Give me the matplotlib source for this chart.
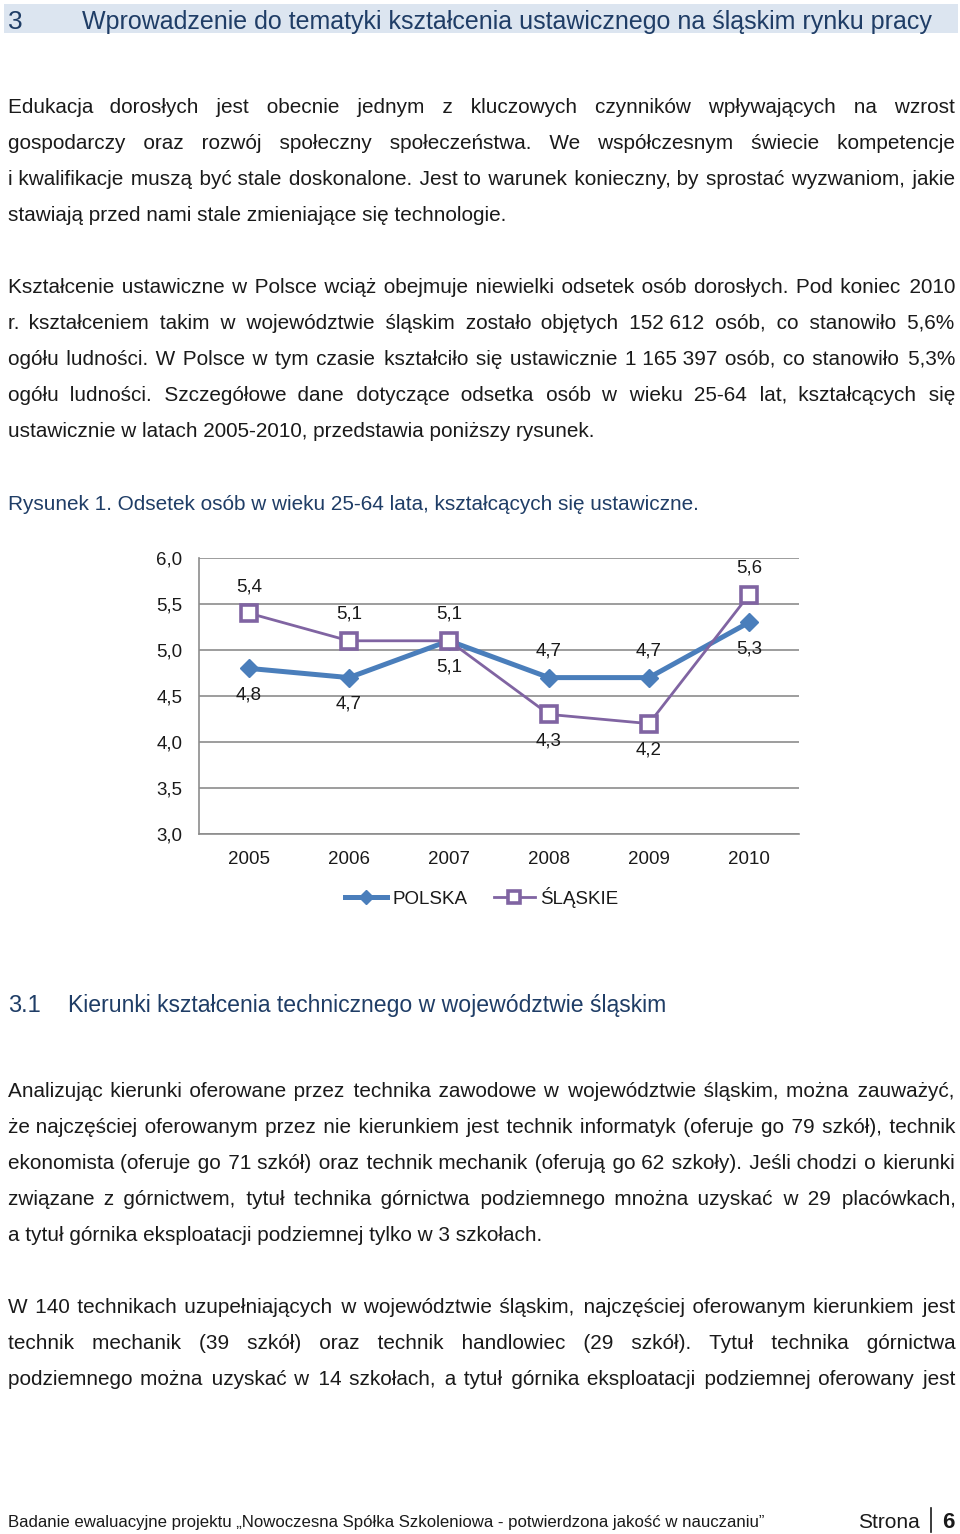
import matplotlib
matplotlib.use("Agg")
import matplotlib.pyplot as plt
from matplotlib.patches import Rectangle
from matplotlib.lines import Line2D

# chart data
years = ["2005", "2006", "2007", "2008", "2009", "2010"]
polska = [4.8, 4.7, 5.1, 4.7, 4.7, 5.3]
slaskie = [5.4, 5.1, 5.1, 4.3, 4.2, 5.6]
# label side: +1 above the point, -1 below
polska_side = [-1, -1, -1, 1, 1, -1]
slaskie_side = [1, 1, 1, -1, -1, 1]
yticks = [3.0, 3.5, 4.0, 4.5, 5.0, 5.5, 6.0]

# page text (one entry per printed line)
para1 = [
    "Edukacja dorosłych jest obecnie jednym z kluczowych czynników wpływających na wzrost",
    "gospodarczy oraz rozwój społeczny społeczeństwa. We współczesnym świecie kompetencje",
    "i kwalifikacje muszą być stale doskonalone. Jest to warunek konieczny, by sprostać wyzwaniom, jakie",
    "stawiają przed nami stale zmieniające się technologie.",
]
para2 = [
    "Kształcenie ustawiczne w Polsce wciąż obejmuje niewielki odsetek osób dorosłych. Pod koniec 2010",
    "r. kształceniem takim w województwie śląskim zostało objętych 152\u00a0612 osób, co stanowiło 5,6%",
    "ogółu ludności. W Polsce w tym czasie kształciło się ustawicznie 1\u00a0165\u00a0397 osób, co stanowiło 5,3%",
    "ogółu ludności. Szczegółowe dane dotyczące odsetka osób w wieku 25-64 lat, kształcących się",
    "ustawicznie w latach 2005-2010, przedstawia poniższy rysunek.",
]
para3 = [
    "Analizując kierunki oferowane przez technika zawodowe w województwie śląskim, można zauważyć,",
    "że najczęściej oferowanym przez nie kierunkiem jest technik informatyk (oferuje go 79 szkół), technik",
    "ekonomista (oferuje go 71 szkół) oraz technik mechanik (oferują go 62 szkoły). Jeśli chodzi o kierunki",
    "związane z górnictwem, tytuł technika górnictwa podziemnego mnożna uzyskać w 29 placówkach,",
    "a tytuł górnika eksploatacji podziemnej tylko w 3 szkołach.",
]
para4 = [
    "W 140 technikach uzupełniających w województwie śląskim, najczęściej oferowanym kierunkiem jest",
    "technik mechanik (39 szkół) oraz technik handlowiec (29 szkół). Tytuł technika górnictwa",
    "podziemnego można uzyskać w 14 szkołach, a tytuł górnika eksploatacji podziemnej oferowany jest",
]

W, H = 960, 1534
plt.rcParams["font.family"] = ["Liberation Sans", "DejaVu Sans"]
fig = plt.figure(figsize=(W / 100, H / 100), dpi=100)
fig.patch.set_facecolor("white")
renderer = fig.canvas.get_renderer()

TXT = "#1a1a1a"
HEAD = "#1f3d66"
BODY_SIZE = 14.95
HS = "\u200a"  # hair space, used to stretch word gaps


def fx(x):
    return x / W


def fy(y):
    return 1 - y / H


def width_of(s, size):
    t = fig.text(0, 0, s, fontsize=size)
    w = t.get_window_extent(renderer).width
    t.remove()
    return w


def fit_text(x, y, s, target_w, size, **kw):
    t = fig.text(fx(x), fy(y), s, fontsize=size, va="baseline", **kw)
    w = t.get_window_extent(renderer).width
    t.set_fontsize(size * target_w / w)
    return t


hs_w = (width_of("x" + HS * 40 + "x", BODY_SIZE) - width_of("xx", BODY_SIZE)) / 40
X0, X1 = 8, 955


def paragraph(lines, y0, step=36, justify_last=False):
    for i, line in enumerate(lines):
        yb = y0 + i * step + 7
        words = line.split(" ")
        if i < len(lines) - 1 or justify_last:
            extra = (X1 - X0) - width_of(line, BODY_SIZE)
            n = max(0, round(extra / hs_w))
            gaps = len(words) - 1
            out = words[0]
            for k, w in enumerate(words[1:]):
                cnt = n * (k + 1) // gaps - n * k // gaps
                out += " " + HS * cnt + w
            line = out
        fig.text(fx(X0), fy(yb), line, fontsize=BODY_SIZE, color=TXT, va="baseline")


# header band
fig.patches.append(Rectangle((fx(4), fy(33)), fx(954), 29 / H, transform=fig.transFigure,
                             facecolor="#dce5f0", edgecolor="none", zorder=0))
fig.text(fx(8), fy(29), "3", fontsize=19, color=HEAD, va="baseline")
fit_text(82, 29, "Wprowadzenie do tematyki kształcenia ustawicznego na śląskim rynku pracy",
         853, 17, color=HEAD)

paragraph(para1, 106)
paragraph(para2, 286)

fit_text(8, 510, "Rysunek 1. Odsetek osób w wieku 25-64 lata, kształcących się ustawiczne.",
         694, 14, color=HEAD)

# chart
ax = fig.add_axes([fx(199), fy(834), 600 / W, 276 / H])
x = list(range(len(years)))
ax.plot(x, polska, color="#4a7ebb", lw=3.6, marker="D", markersize=9,
        label="POLSKA", zorder=3)
ax.plot(x, slaskie, color="#8064a2", lw=2, marker="s", markersize=12,
        markerfacecolor="white", markeredgewidth=2.6, label="ŚLĄSKIE", zorder=4)
lab = dict(ha="center", va="center", fontsize=13.5, color=TXT, textcoords="offset points")
for i in x:
    ax.annotate(f"{polska[i]:.1f}".replace(".", ","), (i, polska[i]),
                xytext=(0, 19 * polska_side[i]), **lab)
    ax.annotate(f"{slaskie[i]:.1f}".replace(".", ","), (i, slaskie[i]),
                xytext=(0, 19 * slaskie_side[i]), **lab)

ax.set_xlim(-0.5, 5.5)
ax.set_ylim(3.0, 6.0)
ax.set_yticks(yticks)
ax.set_yticklabels([f"{v:.1f}".replace(".", ",") for v in yticks])
ax.set_xticks(x)
ax.set_xticklabels(years)
ax.tick_params(length=0, labelsize=13.5, labelcolor=TXT)
ax.tick_params(axis="y", pad=12)
ax.tick_params(axis="x", pad=12)
ax.grid(axis="y", color="#8c8c8c", lw=1.2)
ax.set_axisbelow(True)
for s in ["top", "right"]:
    ax.spines[s].set_visible(False)
for s in ["left", "bottom"]:
    ax.spines[s].set_color("#8c8c8c")
    ax.spines[s].set_linewidth(1.2)

fig.legend(handles=ax.get_lines(), loc="center", bbox_to_anchor=(fx(482), fy(897)),
           ncol=2, frameon=False, fontsize=13.5, handlelength=2.2, handletextpad=0.3,
           columnspacing=1.4, labelcolor=TXT, markerscale=0.75)

# section 3.1
fig.text(fx(8), fy(1012), "3.1", fontsize=17, color=HEAD, va="baseline")
fit_text(68, 1012, "Kierunki kształcenia technicznego w województwie śląskim",
         600, 17, color=HEAD)

paragraph(para3, 1090)
paragraph(para4, 1306, justify_last=True)

# footer
fit_text(8, 1527, "Badanie ewaluacyjne projektu „Nowoczesna Spółka Szkoleniowa - potwierdzona jakość w nauczaniu”",
         749, 11, color=TXT)
fig.text(fx(920), fy(1528), "Strona", fontsize=15, color=TXT, ha="right", va="baseline")
fig.add_artist(Line2D([fx(931), fx(931)], [fy(1508), fy(1532)], color=TXT, lw=1.2))
fig.text(fx(942), fy(1528), "6", fontsize=16, color=TXT, fontweight="bold", va="baseline")

fig.savefig("out.png", dpi=100)
